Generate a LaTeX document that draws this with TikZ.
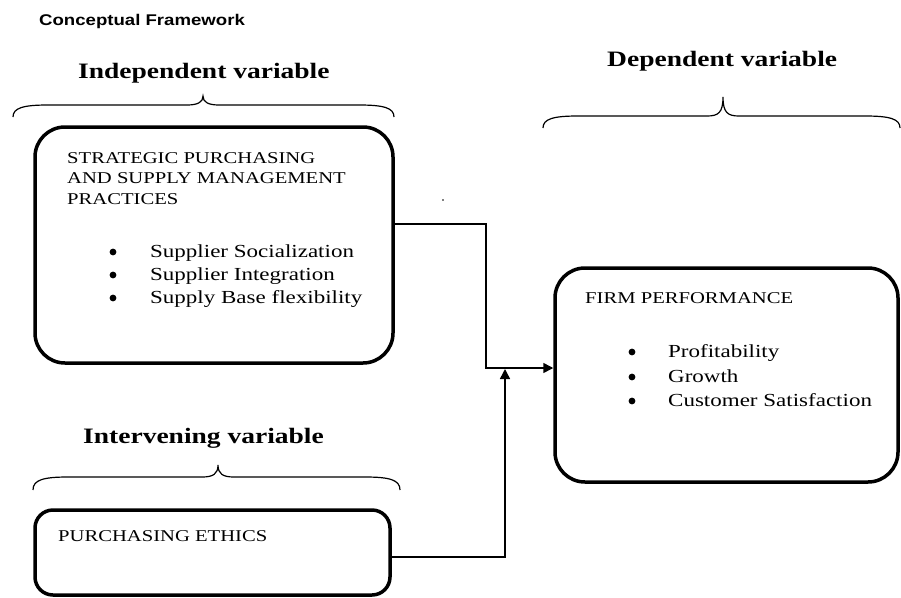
\documentclass[tikz,border=0pt]{standalone}
\usepackage{fontspec}
\setmainfont{Liberation Serif}[FakeStretch=1.25]
\newfontfamily\titlefont{Liberation Sans}[FakeStretch=1.2]
\usetikzlibrary{arrows.meta,calc}
\newcommand\mybrace[6]{% x0 x1 xc ytip yh yend
  \draw[bracel] (#1,#6) .. controls (#1,#5+3) and (#1+10,#5) .. (#1+35,#5)
    -- (#3-16,#5) .. controls (#3-5,#5) and (#3,#5-3) .. (#3,#4)
    .. controls (#3,#5-3) and (#3+5,#5) .. (#3+16,#5)
    -- (#2-35,#5) .. controls (#2-10,#5) and (#2,#5+3) .. (#2,#6);}
\begin{document}
\begin{tikzpicture}[x=1pt,y=-1pt,
  box/.style={draw, line width=3.5pt, rounded corners=30pt, inner sep=0pt},
  conn/.style={line width=1.5pt, -{Triangle[length=10pt,width=10pt]}},
  txt/.style={anchor=base west, inner sep=0pt, font=\fontsize{16.5}{20}\selectfont},
  item/.style={anchor=base west, inner sep=0pt, font=\fontsize{18.4}{22}\selectfont},
  bulletdot/.style={circle, fill, inner sep=0pt, minimum size=6.8pt},
  head/.style={anchor=base west, inner sep=0pt, font=\fontsize{22}{26}\selectfont\bfseries},
  bracel/.style={line width=1.2pt}]
\useasboundingbox (0,0) rectangle (901,597);

% title
\node[anchor=base west, inner sep=0pt, font=\titlefont\fontsize{15.5}{18}\selectfont\bfseries] (title) at (39,25) {Conceptual Framework};

% headings
\node[head] (hind) at (78,78) {Independent variable};
\node[head] (hdep) at (607,66) {Dependent variable};
\node[head] (hint) at (83,443) {Intervening variable};

% braces
\mybrace{13}{394}{203}{96}{105}{117}
\mybrace{543}{900}{723}{97}{116}{128}
\mybrace{33}{400}{218}{465}{477}{490}

% boxes
\node[box, minimum width=358pt, minimum height=236pt] (sp) at (214,245) {};
\node[box, rounded corners=18pt, minimum width=355pt, minimum height=85pt] (pe) at (212.5,552.5) {};
\node[box, minimum width=343pt, minimum height=214pt] (fp) at (726.5,375) {};

% box texts
\node[txt] (sp1) at (67,163) {STRATEGIC PURCHASING};
\node[txt] (sp2) at (67,183.5) {AND SUPPLY MANAGEMENT};
\node[txt] (sp3) at (67,204) {PRACTICES};
\node[bulletdot] (spba) at (113,252) {};
\node[bulletdot] (spbb) at (113,275) {};
\node[bulletdot] (spbc) at (113,298) {};
\node[item] (spa) at (150,257) {Supplier Socialization};
\node[item] (spb) at (150,280) {Supplier Integration};
\node[item] (spc) at (150,303) {Supply Base flexibility};

\node[txt] (pet) at (58,541) {PURCHASING ETHICS};

\node[txt] (fpt) at (585,303) {FIRM PERFORMANCE};
\node[bulletdot] (fpba) at (632,352) {};
\node[bulletdot] (fpbb) at (632,377) {};
\node[bulletdot] (fpbc) at (632,401) {};
\node[item] (fpa) at (668,357) {Profitability};
\node[item] (fpb) at (668,382) {Growth};
\node[item] (fpc) at (668,406) {Customer Satisfaction};

% stray dot
\fill (443,200) circle (0.8pt);

% connectors
\coordinate (jn) at (505,368);
\draw[conn] ([yshift=21pt]sp.east) -- ++(91,0) |- (fp.west |- jn);
\draw[conn] ([yshift=-4.5pt]pe.east) -| ([yshift=-1pt]jn);
\end{tikzpicture}
\end{document}
